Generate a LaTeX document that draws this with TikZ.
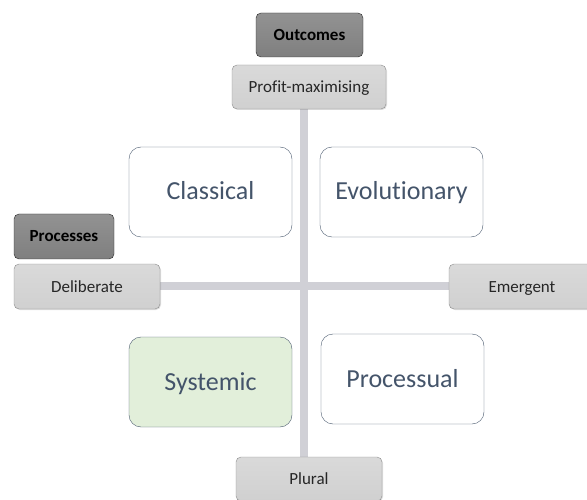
\documentclass[tikz,border=0pt]{standalone}
\usepackage{fontspec}
\setmainfont[Ligatures=NoCommon]{Carlito}
\usetikzlibrary{shadows,backgrounds}
\definecolor{axis}{HTML}{D0D0D6}
\definecolor{quadtxt}{HTML}{44546A}
\definecolor{quadline}{HTML}{4A5A6E}
\definecolor{lightbox}{HTML}{D0D0D0}
\definecolor{darkbox}{HTML}{7F7F7F}
\definecolor{greenfill}{HTML}{E2EFDA}
\begin{document}
\begin{tikzpicture}[x=1pt,y=-1pt,
  lbl/.style={draw=black!45, rounded corners=5pt, top color=lightbox!80, bottom color=lightbox, font=\fontsize{17}{20}\selectfont, text=black!85, inner sep=0pt, text height=14pt, text depth=3pt, drop shadow={shadow xshift=1pt, shadow yshift=-1pt, opacity=0.25}},
  head/.style={draw=black!85, rounded corners=5pt, top color=darkbox!85, bottom color=darkbox, font=\fontsize{17}{20}\selectfont\bfseries, text=black, inner sep=0pt, text height=14pt, text depth=3pt},
  quad/.style={draw=quadline, rounded corners=12pt, fill=white, minimum width=163pt, minimum height=90pt, font=\fontsize{26}{30}\selectfont, text=quadtxt, inner sep=0pt, text height=20pt, text depth=4pt},
  ax/.style={draw=axis, line width=8pt}]
\useasboundingbox (0,0) rectangle (587,500);
% label boxes
\node[lbl, minimum width=154pt, minimum height=44pt] (top) at (309,87) {Profit-maximising};
\node[lbl, minimum width=146pt, minimum height=45pt] (left) at (87,286.5) {Deliberate};
\node[lbl, minimum width=146pt, minimum height=45pt] (right) at (522,286.5) {Emergent};
\node[lbl, minimum width=146pt, minimum height=44pt] (bottom) at (309,479) {Plural};
% axes
\coordinate (vx) at (304,286);
\begin{scope}[on background layer]
\draw[ax] (top.south -| vx) -- (bottom.north -| vx);
\draw[ax] (left.east |- vx) -- (right.west |- vx);
\end{scope}
% heads
\node[head, minimum width=107pt, minimum height=44pt] (outc) at (309.5,35) {Outcomes};
\node[head, minimum width=100pt, minimum height=45pt] (proc) at (64,236.5) {Processes};
% quadrants
\node[quad] (classical) at (210.5,192) {Classical};
\node[quad] (evol) at (401.5,192) {Evolutionary};
\node[quad, fill=greenfill] (syst) at (210.5,382) {Systemic};
\node[quad] (procl) at (402.5,379) {Processual};
\end{tikzpicture}
\end{document}
